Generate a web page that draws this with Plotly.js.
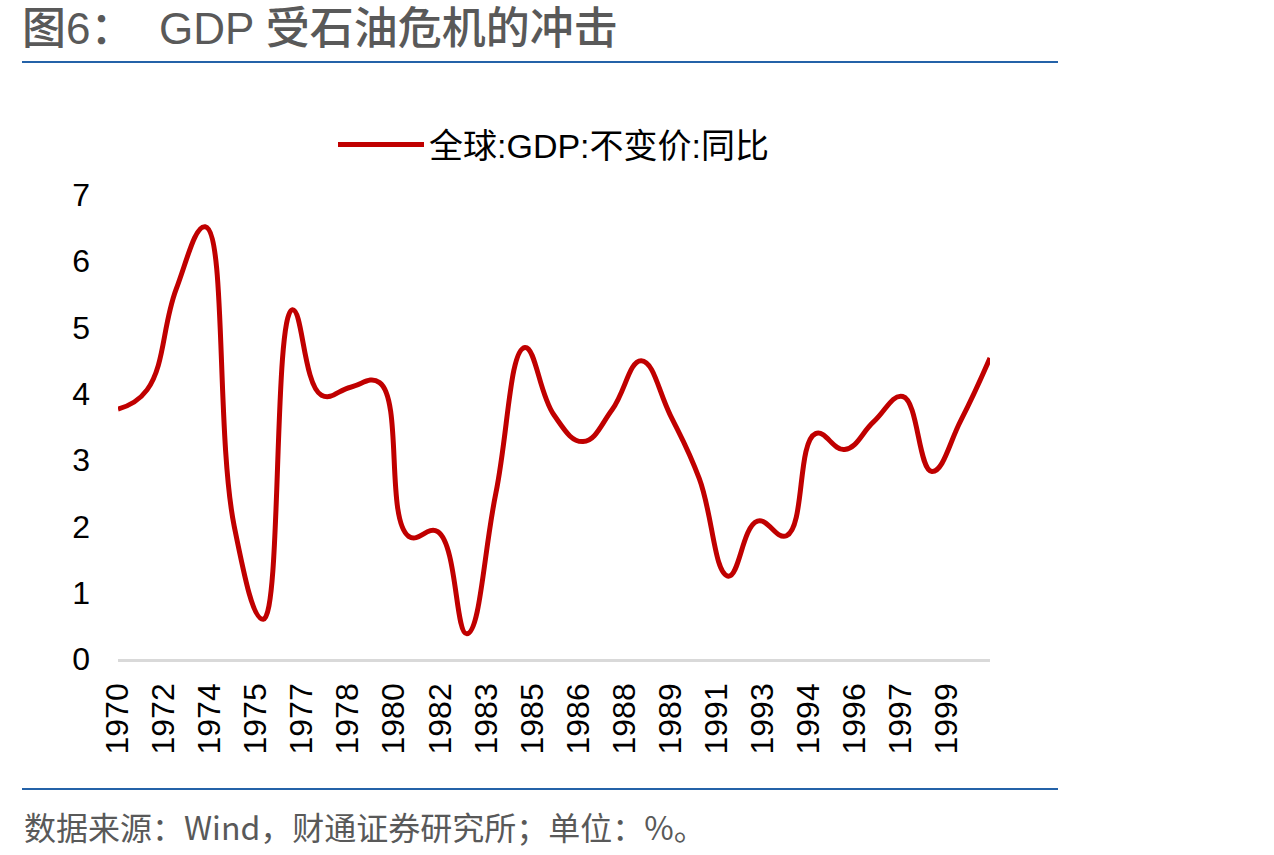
<!DOCTYPE html>
<html>
<head>
<meta charset="utf-8">
<script src="https://cdn.plot.ly/plotly-3.0.1.min.js"></script>
<style>
  html, body { margin: 0; padding: 0; background: #ffffff; }
  #chart { width: 1274px; height: 855px; }
</style>
</head>
<body>
<div id="chart"></div>
<script>
// World real GDP growth, year over year (%), 1970-2000
const years = [1970, 1971, 1972, 1973, 1974, 1975, 1976, 1977, 1978, 1979,
               1980, 1981, 1982, 1983, 1984, 1985, 1986, 1987, 1988, 1989,
               1990, 1991, 1992, 1993, 1994, 1995, 1996, 1997, 1998, 1999, 2000];
const gdpGrowth = [3.77, 4.06, 5.58, 6.52, 2.0, 0.6, 5.27, 3.98, 4.1, 4.17,
                   1.85, 1.92, 0.38, 2.5, 4.7, 3.68, 3.28, 3.76, 4.5, 3.68,
                   2.72, 1.25, 2.08, 1.86, 3.4, 3.16, 3.58, 3.96, 2.83, 3.6, 4.54];
const seriesName = '全球:GDP:不变价:同比';
const titleText = '图6：&nbsp;&nbsp;GDP 受石油危机的冲击';
const sourceText = '数据来源：Wind，财通证券研究所；单位：%。';

// each annual value is stamped at year end
const dates = years.map(y => y + '-12-31');

const latin = '"Liberation Sans", Arial, "Noto Sans CJK SC", sans-serif';
const cjk = '"Noto Sans CJK SC", "Liberation Sans", sans-serif';

const trace = {
  x: dates,
  y: gdpGrowth,
  type: 'scatter',
  mode: 'lines',
  name: seriesName,
  line: { color: '#C00000', width: 5, shape: 'spline', smoothing: 1.25 }
};

const layout = {
  width: 1274,
  height: 855,
  margin: { l: 118, r: 284, t: 195, b: 196 },
  paper_bgcolor: '#ffffff',
  plot_bgcolor: '#ffffff',
  showlegend: true,
  title: {
    text: titleText,
    font: { family: latin, size: 44, color: '#595959', weight: 500 },
    x: 22 / 1274, xref: 'container', xanchor: 'left',
    y: 1 - 29 / 855, yref: 'container', yanchor: 'middle'
  },
  legend: {
    orientation: 'h',
    x: 0.5, xanchor: 'center',
    y: 1 + 50 / 464, yanchor: 'middle',
    font: { family: latin, size: 34, color: '#000000' },
    itemwidth: 86,
    bgcolor: 'rgba(0,0,0,0)'
  },
  xaxis: {
    type: 'date',
    range: [dates[0], dates[dates.length - 1]],
    tickmode: 'linear',
    tick0: dates[0],
    dtick: 'M19',
    tickformat: '%Y',
    tickangle: -90,
    ticks: '',
    ticklabelstandoff: 9,
    showgrid: false,
    zeroline: false,
    showline: true,
    linecolor: '#D9D9D9',
    linewidth: 2.5,
    tickfont: { family: latin, size: 32, color: '#000000' },
    fixedrange: true
  },
  yaxis: {
    range: [0, 7],
    tickmode: 'linear',
    tick0: 0,
    dtick: 1,
    ticks: '',
    ticklabelstandoff: 27,
    showgrid: false,
    zeroline: false,
    showline: false,
    tickfont: { family: latin, size: 32, color: '#000000' },
    fixedrange: true
  },
  shapes: [
    { type: 'line', xref: 'paper', yref: 'paper',
      x0: (22 - 118) / 872, x1: (1058 - 118) / 872,
      y0: (659 - 62) / 464, y1: (659 - 62) / 464,
      line: { color: '#2462A8', width: 2 } },
    { type: 'line', xref: 'paper', yref: 'paper',
      x0: (22 - 118) / 872, x1: (1058 - 118) / 872,
      y0: (659 - 789) / 464, y1: (659 - 789) / 464,
      line: { color: '#2462A8', width: 2 } }
  ],
  annotations: [
    { text: sourceText, xref: 'paper', yref: 'paper',
      x: (22 - 118) / 872, xanchor: 'left',
      y: (659 - 826) / 464, yanchor: 'middle',
      showarrow: false,
      font: { family: cjk, size: 32, color: '#595959' } }
  ]
};

Plotly.newPlot('chart', [trace], layout, { displayModeBar: false, staticPlot: true });
</script>
</body>
</html>
